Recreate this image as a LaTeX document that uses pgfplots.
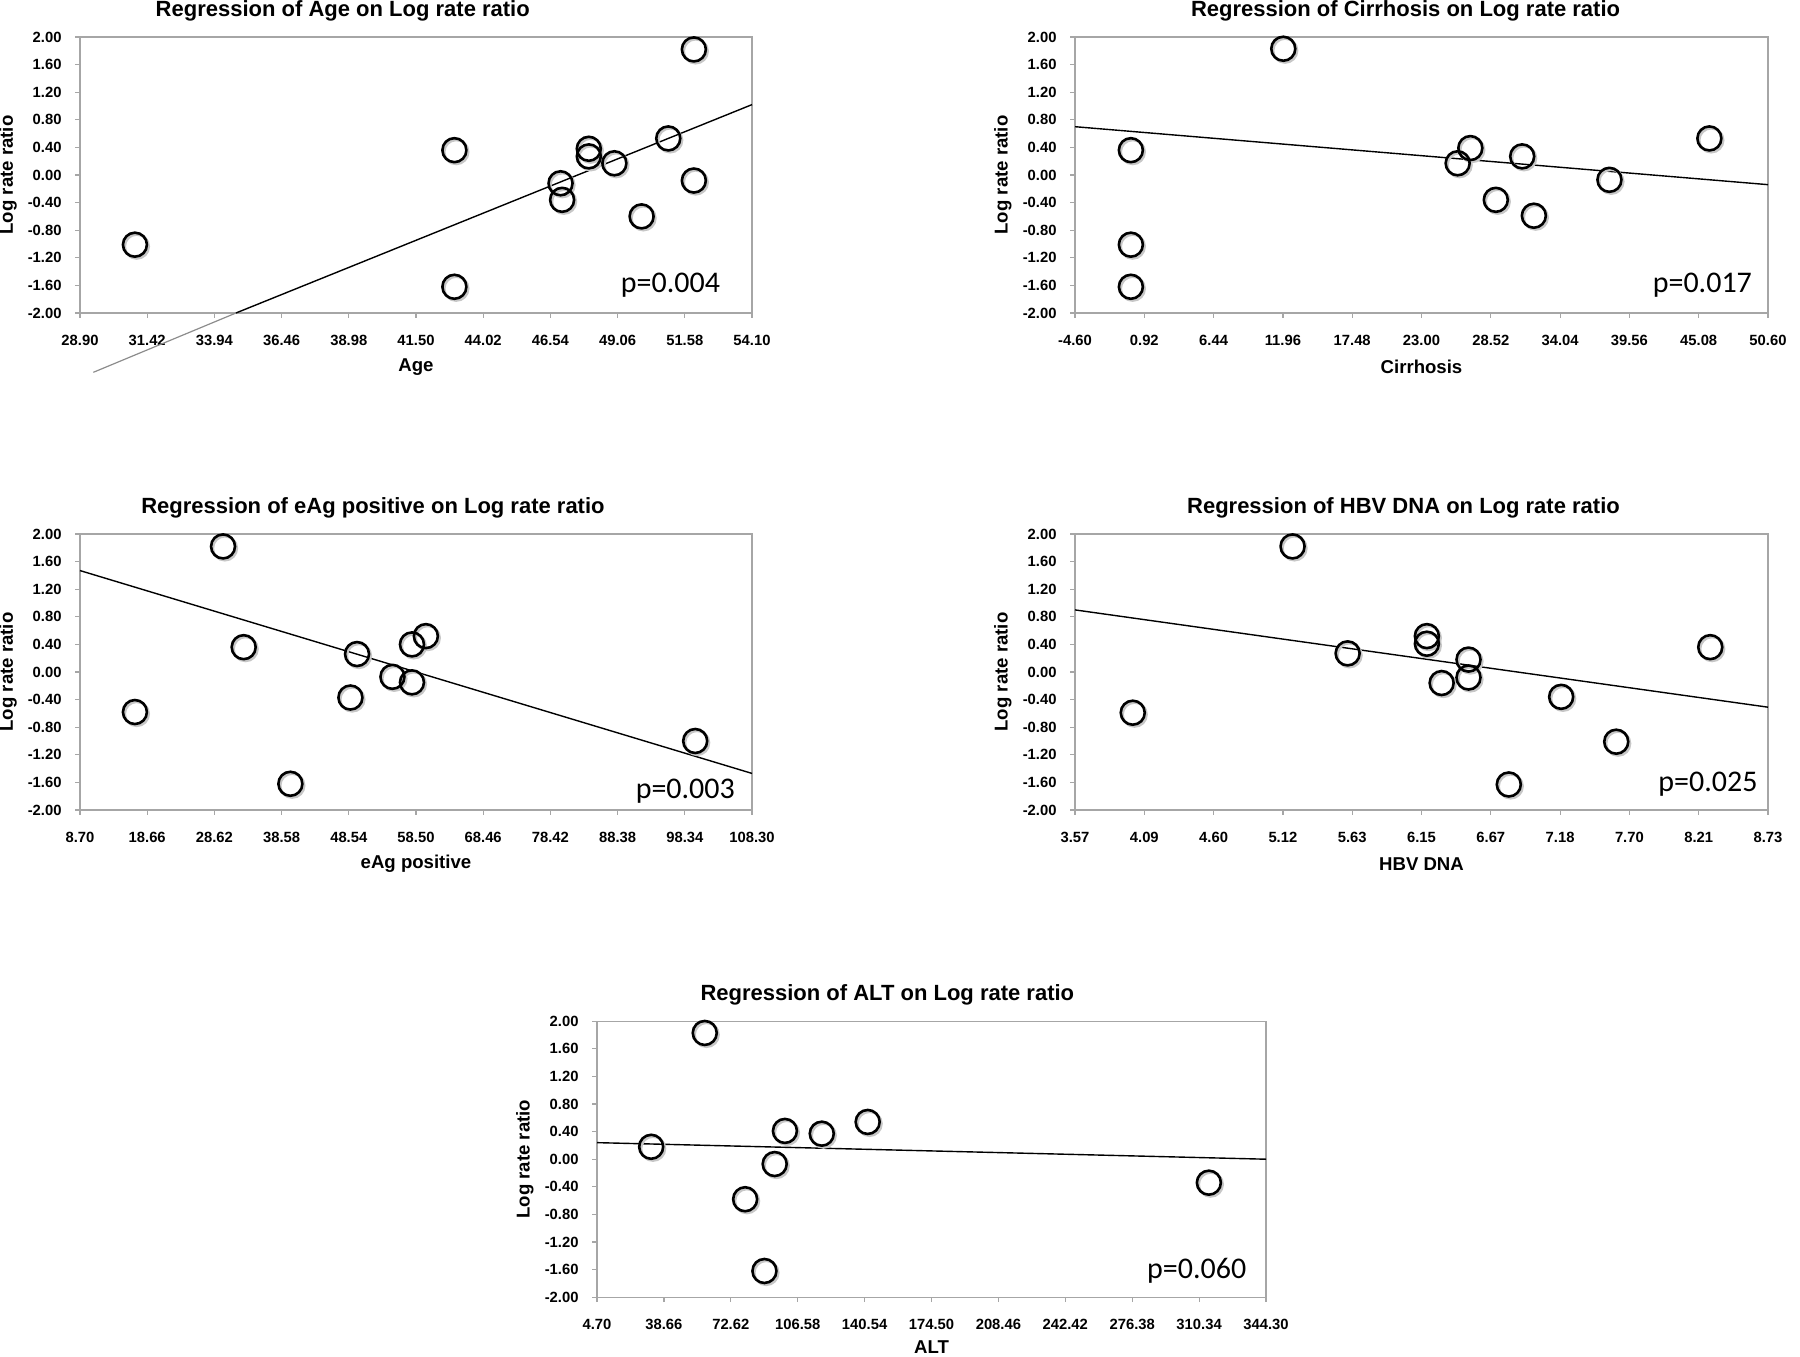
\documentclass[border=0pt]{standalone}
\usepackage{fontspec}
\setmainfont{Liberation Sans}
\newfontfamily\carlito{Carlito}
\usepackage{pgfplots}
\pgfplotsset{compat=1.18}
\pgfplotsset{
  every axis title/.style={font=\bfseries\fontsize{11}{13}\selectfont, anchor=center},
  reg/.style={
    scale only axis, height=138pt, ymin=-2, ymax=2,
    ytick={-2,-1.6,-1.2,-0.8,-0.4,0,0.4,0.8,1.2,1.6,2},
    axis line style={color=black!35, line width=0.6pt},
    tick style={color=black!35, line width=0.6pt},
    tick align=outside, tick pos=left, major tick length=2.5pt,
    ticklabel style={font=\bfseries\fontsize{7.4}{8}\selectfont, text=black},
    /pgf/number format/fixed, /pgf/number format/fixed zerofill,
    /pgf/number format/precision=2, /pgf/number format/assume math mode=true,
    yticklabel style={xshift=-3.2pt},
    xticklabel style={yshift=-5pt},
    label style={font=\bfseries\fontsize{9.3}{10}\selectfont},
    clip=false,
  },
  pts/.style={only marks, mark=o, mark size=6pt, line width=1.3pt, black},
  shd/.style={only marks, mark=o, mark size=6pt, line width=1.3pt, black!22, mark options={xshift=0.9pt, yshift=-0.9pt}},
  fit/.style={black, line width=0.7pt, no marks},
}
\tikzset{pval/.style={font=\carlito\fontsize{15}{17}\selectfont, anchor=east}}
\begin{document}
\begin{tikzpicture}
\useasboundingbox (0,0) rectangle (900pt,678pt);
% Panel 1: Age
\begin{axis}[reg, at={(40pt,521.5pt)}, anchor=south west, width=336pt,
  xmin=28.9, xmax=54.1,
  xtick={28.90,31.42,33.94,36.46,38.98,41.50,44.02,46.54,49.06,51.58,54.10},
  title={Regression of Age on Log rate ratio}, title style={at={(axis description cs:0.391,1.095)}},
  xlabel={Age}, xlabel style={at={(axis description cs:0.5,-0.196)}, anchor=center},
  ylabel={Log rate ratio}, ylabel style={at={(axis description cs:-0.107,0.5)}, anchor=center}]
\addplot[shd] coordinates {(30.96,-1.01) (42.94,0.36) (42.94,-1.62) (46.92,-0.12) (46.98,-0.36) (47.98,0.38) (47.98,0.27) (48.94,0.17) (50.96,0.53) (51.92,1.82) (51.92,-0.08) (49.96,-0.60)};
\addplot[black!45, line width=0.6pt, no marks] coordinates {(29.4,-2.86) (34.75,-2.0)};
\addplot[fit] coordinates {(34.75,-2.0) (54.1,1.02)};
\addplot[pts] coordinates {(30.96,-1.01) (42.94,0.36) (42.94,-1.62) (46.92,-0.12) (46.98,-0.36) (47.98,0.38) (47.98,0.27) (48.94,0.17) (50.96,0.53) (51.92,1.82) (51.92,-0.08) (49.96,-0.60)};
\node[pval] at (axis description cs:0.963,0.1) {p=0.004};
\end{axis}
% Panel 2: Cirrhosis
\begin{axis}[reg, at={(537.5pt,521.5pt)}, anchor=south west, width=346.5pt,
  xmin=-4.6, xmax=50.6,
  xtick={-4.60,0.92,6.44,11.96,17.48,23.00,28.52,34.04,39.56,45.08,50.60},
  title={Regression of Cirrhosis on Log rate ratio}, title style={at={(axis description cs:0.477,1.095)}},
  xlabel={Cirrhosis}, xlabel style={at={(axis description cs:0.5,-0.196)}, anchor=center},
  ylabel={Log rate ratio}, ylabel style={at={(axis description cs:-0.104,0.5)}, anchor=center}]
\addplot[shd] coordinates {(11.99,1.83) (-0.15,0.36) (-0.15,-1.01) (-0.15,-1.62) (25.88,0.17) (26.89,0.39) (31.02,0.27) (28.92,-0.36) (31.95,-0.59) (37.97,-0.07) (45.93,0.53)};
\addplot[fit] coordinates {(-4.6,0.70) (50.6,-0.14)};
\addplot[pts] coordinates {(11.99,1.83) (-0.15,0.36) (-0.15,-1.01) (-0.15,-1.62) (25.88,0.17) (26.89,0.39) (31.02,0.27) (28.92,-0.36) (31.95,-0.59) (37.97,-0.07) (45.93,0.53)};
\node[pval] at (axis description cs:0.987,0.1) {p=0.017};
\end{axis}
% Panel 3: eAg positive
\begin{axis}[reg, at={(40pt,273pt)}, anchor=south west, width=336pt,
  xmin=8.7, xmax=108.3,
  xtick={8.70,18.66,28.62,38.58,48.54,58.50,68.46,78.42,88.38,98.34,108.30},
  title={Regression of eAg positive on Log rate ratio}, title style={at={(axis description cs:0.436,1.095)}},
  xlabel={eAg positive}, xlabel style={at={(axis description cs:0.5,-0.196)}, anchor=center},
  ylabel={Log rate ratio}, ylabel style={at={(axis description cs:-0.107,0.5)}, anchor=center}]
\addplot[shd] coordinates {(29.9,1.82) (32.96,0.36) (16.84,-0.58) (39.88,-1.62) (48.78,-0.37) (49.76,0.26) (55.01,-0.07) (57.9,-0.15) (57.9,0.40) (59.96,0.52) (99.88,-1.00)};
\addplot[fit] coordinates {(8.7,1.47) (108.3,-1.47)};
\addplot[pts] coordinates {(29.9,1.82) (32.96,0.36) (16.84,-0.58) (39.88,-1.62) (48.78,-0.37) (49.76,0.26) (55.01,-0.07) (57.9,-0.15) (57.9,0.40) (59.96,0.52) (99.88,-1.00)};
\node[pval] at (axis description cs:0.985,0.067) {p=0.003};
\end{axis}
% Panel 4: HBV DNA
\begin{axis}[reg, at={(537.5pt,273pt)}, anchor=south west, width=346.5pt,
  xmin=3.57, xmax=8.73,
  xtick={3.57,4.086,4.602,5.118,5.634,6.15,6.666,7.182,7.698,8.214,8.73},
  xticklabels={3.57,4.09,4.60,5.12,5.63,6.15,6.67,7.18,7.70,8.21,8.73},
  title={Regression of HBV DNA on Log rate ratio}, title style={at={(axis description cs:0.474,1.095)}},
  xlabel={HBV DNA}, xlabel style={at={(axis description cs:0.5,-0.196)}, anchor=center},
  ylabel={Log rate ratio}, ylabel style={at={(axis description cs:-0.104,0.5)}, anchor=center}]
\addplot[shd] coordinates {(5.19,1.82) (4.00,-0.59) (5.60,0.27) (6.19,0.52) (6.19,0.41) (6.30,-0.16) (6.50,0.18) (6.50,-0.08) (6.80,-1.63) (7.19,-0.36) (7.60,-1.01) (8.30,0.36)};
\addplot[fit] coordinates {(3.57,0.90) (8.73,-0.51)};
\addplot[pts] coordinates {(5.19,1.82) (4.00,-0.59) (5.60,0.27) (6.19,0.52) (6.19,0.41) (6.30,-0.16) (6.50,0.18) (6.50,-0.08) (6.80,-1.63) (7.19,-0.36) (7.60,-1.01) (8.30,0.36)};
\node[pval] at (axis description cs:0.995,0.094) {p=0.025};
\end{axis}
% Panel 5: ALT
\begin{axis}[reg, at={(298.5pt,29.4pt)}, anchor=south west, width=334.5pt,
  xmin=4.7, xmax=344.3,
  xtick={4.70,38.66,72.62,106.58,140.54,174.50,208.46,242.42,276.38,310.34,344.30},
  title={Regression of ALT on Log rate ratio}, title style={at={(axis description cs:0.434,1.095)}},
  xlabel={ALT}, xlabel style={at={(axis description cs:0.5,-0.18)}, anchor=center},
  ylabel={Log rate ratio}, ylabel style={at={(axis description cs:-0.108,0.5)}, anchor=center}]
\addplot[shd] coordinates {(32.2,0.18) (59.4,1.83) (79.9,-0.58) (89.7,-1.62) (94.9,-0.07) (100.1,0.41) (118.8,0.37) (142.1,0.54) (315.3,-0.34)};
\addplot[fit] coordinates {(4.7,0.24) (344.3,0.00)};
\addplot[pts] coordinates {(32.2,0.18) (59.4,1.83) (79.9,-0.58) (89.7,-1.62) (94.9,-0.07) (100.1,0.41) (118.8,0.37) (142.1,0.54) (315.3,-0.34)};
\node[pval] at (axis description cs:0.981,0.094) {p=0.060};
\end{axis}
\end{tikzpicture}
\end{document}
